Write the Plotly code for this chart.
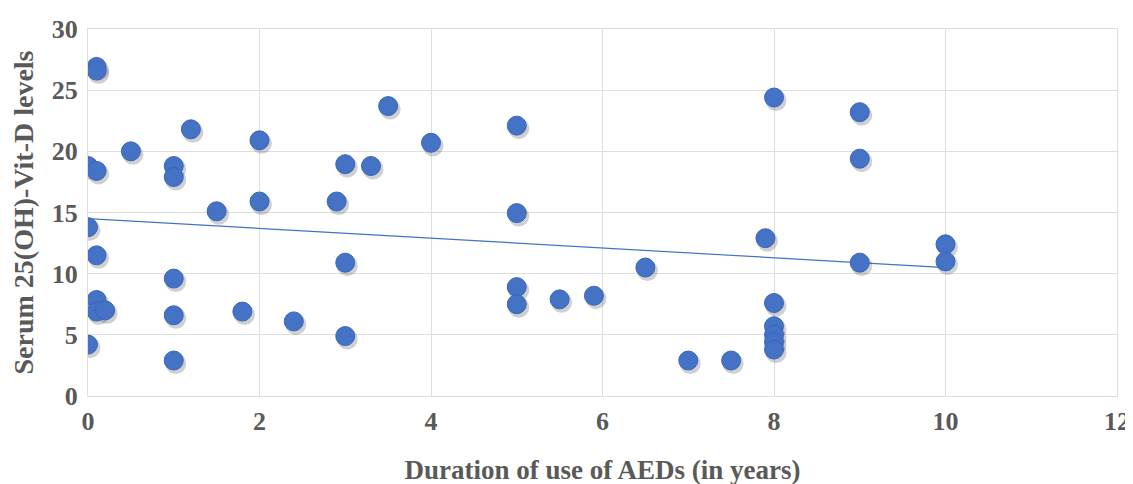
import plotly.graph_objects as go

# Data
duration_years = [
    0.1, 0.1, 0.0, 0.1, 0.5, 1.2, 1.0, 1.0, 1.5, 2.0, 2.0, 2.9, 3.0, 3.3, 3.5,
    0.0, 0.1, 1.0, 0.1, 0.1, 0.2, 1.0, 1.8, 2.4, 3.0, 3.0, 0.0, 1.0,
    4.0, 5.0, 5.0, 5.0, 5.0, 5.5, 5.9, 6.5, 7.0, 7.5,
    7.9, 8.0, 8.0, 8.0, 8.0, 8.0, 8.0,
    9.0, 9.0, 9.0, 10.0, 10.0,
]
vitd_levels = [
    26.9, 26.6, 18.8, 18.4, 20.0, 21.8, 18.8, 17.9, 15.1, 20.9, 15.9, 15.9, 18.95, 18.8, 23.7,
    13.8, 11.5, 9.6, 7.85, 6.9, 7.0, 6.6, 6.9, 6.1, 10.9, 4.9, 4.2, 2.9,
    20.7, 22.1, 14.95, 8.9, 7.5, 7.9, 8.2, 10.5, 2.9, 2.9,
    12.9, 24.4, 7.6, 5.7, 5.0, 4.4, 3.8,
    23.2, 19.4, 10.9, 12.4, 11.0,
]
trend_x = [0, 10]
trend_y = [14.5, 10.5]

x_ticks = [0, 2, 4, 6, 8, 10, 12]
y_ticks = [0, 5, 10, 15, 20, 25, 30]

BLUE = "#4472C4"
GRID = "#DEDEDE"
TXT = "#595959"
FONT = "Liberation Serif"

W, H = 1133, 484
ML, MR, MT, MB = 80, 24, 21, 96
pw, ph = W - ML - MR, H - MT - MB

x_range = [0, 12]
y_range = [0, 30]
# shadow axes shifted by a few pixels
dx_px, dy_px = 2.0, 3.0
sx = (x_range[1] - x_range[0]) / pw * dx_px
sy = (y_range[1] - y_range[0]) / ph * dy_px

fig = go.Figure()

# trend line on the main axes
fig.add_trace(go.Scatter(
    x=trend_x, y=trend_y, mode="lines",
    line=dict(color=BLUE, width=1.2), showlegend=False,
))

# soft shadow of markers (drawn on shifted overlay axes)
fig.add_trace(go.Scatter(
    x=duration_years, y=vitd_levels, mode="markers",
    xaxis="x2", yaxis="y2",
    marker=dict(size=21, color="rgba(40,40,40,0.22)", line=dict(width=0)),
    hoverinfo="skip", showlegend=False,
))

fig.add_trace(go.Scatter(
    x=duration_years, y=vitd_levels, mode="markers", xaxis="x3", yaxis="y3",
    marker=dict(size=19, color=BLUE, line=dict(color="#3B66BA", width=1)),
    showlegend=False,
))

tickfont = dict(family=FONT, size=26, color=TXT, weight="bold")
fig.update_layout(
    width=W, height=H,
    margin=dict(l=ML, r=MR, t=MT, b=MB),
    paper_bgcolor="white",
    plot_bgcolor="white",
    font=dict(family=FONT, color=TXT),
    xaxis=dict(
        range=x_range, tickvals=x_ticks, ticktext=[str(v) for v in x_ticks],
        showgrid=True, gridcolor=GRID, gridwidth=1,
        showline=True, linecolor=GRID, linewidth=1, mirror=True,
        zeroline=False, automargin=False, ticklabeloverflow="allow",
        ticks="outside", ticklen=2, tickcolor="rgba(0,0,0,0)",
        tickfont=tickfont,
        title=dict(text="<b>Duration of use of AEDs (in years)</b>",
                   font=dict(family=FONT, size=27, color=TXT), standoff=24),
    ),
    yaxis=dict(
        range=y_range, tickvals=y_ticks, ticktext=[str(v) for v in y_ticks],
        showgrid=True, gridcolor=GRID, gridwidth=1,
        showline=True, linecolor=GRID, linewidth=1, mirror=True,
        zeroline=False, automargin=False,
        ticks="outside", ticklen=4, tickcolor="rgba(0,0,0,0)",
        tickfont=tickfont,
        title=dict(text="<b>Serum 25(OH)-Vit-D levels</b>",
                   font=dict(family=FONT, size=28, color=TXT), standoff=10),
    ),
    xaxis2=dict(range=[x_range[0] - sx, x_range[1] - sx], overlaying="x",
                visible=False, showgrid=False, zeroline=False),
    yaxis2=dict(range=[y_range[0] + sy, y_range[1] + sy], overlaying="y",
                visible=False, showgrid=False, zeroline=False),
    xaxis3=dict(range=x_range, overlaying="x",
                visible=False, showgrid=False, zeroline=False),
    yaxis3=dict(range=y_range, overlaying="y",
                visible=False, showgrid=False, zeroline=False),
)

fig.write_html("out.html")
